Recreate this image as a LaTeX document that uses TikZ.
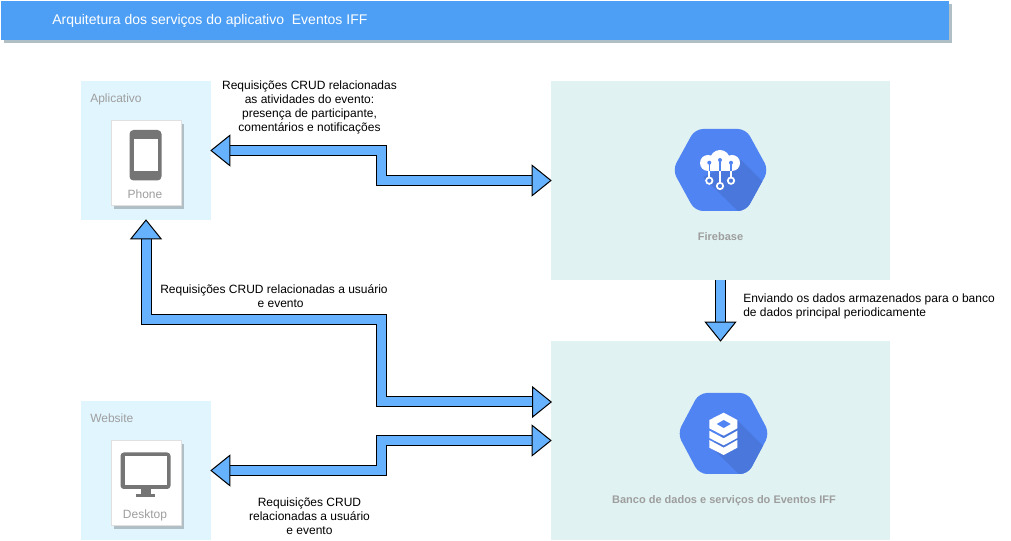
\documentclass[tikz,border=0pt]{standalone}
\usepackage{fontspec}
\setmainfont{Liberation Sans}
\usetikzlibrary{arrows.meta,positioning,shadows}
\definecolor{headblue}{HTML}{4D9FF5}
\definecolor{arrowblue}{HTML}{66B2FF}
\definecolor{applight}{HTML}{E1F5FE}
\definecolor{servlight}{HTML}{E0F2F1}
\definecolor{hexblue}{HTML}{5184F3}
\definecolor{hexdark}{HTML}{4A77DB}
\definecolor{cardshade}{HTML}{B0BEC5}
\definecolor{labelgray}{HTML}{9E9E9E}
\definecolor{icongray}{HTML}{757575}

\begin{document}
\begin{tikzpicture}[
  x=0.75pt,y=-0.75pt,
  font=\fontsize{9}{10.5}\selectfont,
  group/.style={inner sep=0pt,minimum width=97.5pt,minimum height=104.25pt,fill=applight},
  serv/.style={inner sep=0pt,minimum width=254.25pt,minimum height=149.25pt,fill=servlight},
  card/.style={inner sep=0pt,minimum width=52.5pt,minimum height=63.75pt,fill=white,draw=black!12,line width=.75pt,
    drop shadow={shadow xshift=2.25pt,shadow yshift=-2.25pt,fill=cardshade,opacity=1}},
  grp/.style={text=labelgray,anchor=west,inner sep=0pt},
  cardcap/.style={text=labelgray,inner sep=0pt},
  servcap/.style={text=labelgray,inner sep=0pt,font=\fontsize{8.25}{10}\selectfont\bfseries},
  lbl/.style={align=center,inner sep=0pt},
  arr/.style={line width=.75pt,double=arrowblue,double distance=6.75pt,shorten >=-.75pt,
    -{Triangle[length=15pt,width=24pt,fill=arrowblue,line width=.75pt]}},
  arrs/.style={arr,shorten <=-.75pt,{Triangle[length=15pt,width=24pt,fill=arrowblue,line width=.75pt]}-{Triangle[length=15pt,width=24pt,fill=arrowblue,line width=.75pt]}}
]
\useasboundingbox (0,0) rectangle (1011,541);
% header
\node[inner sep=0pt,minimum width=711pt,minimum height=29.25pt,fill=headblue,
  drop shadow={shadow xshift=2.25pt,shadow yshift=-2.25pt,fill=cardshade,opacity=1}] (head) at (475,20.5) {};
\node[text=white,anchor=west,inner sep=0pt,font=\fontsize{10.5}{12}\selectfont] (title) at (52,20.5) {Arquitetura dos serviços do aplicativo\ \ Eventos IFF};
% boxes
\node[group] (app) at (146,150.5) {};
\node[group] (web) at (146,470.5) {};
\node[serv] (fire) at (720.5,180.5) {};
\node[serv] (banco) at (720.5,440.5) {};
\node[grp] (appname) at (90,99) {Aplicativo};
\node[grp] (webname) at (90,418.5) {Website};
\node[card] (phone) at (146,163.5) {};
\node[card] (desk) at (146,483.5) {};
\node[cardcap] (phonecap) at (145,194.5) {Phone};
\node[cardcap] (deskcap) at (145,515) {Desktop};
\node[servcap] (firecap) at (720.5,236.5) {Firebase};
\node[servcap] (bancocap) at (724,500.5) {Banco de dados e serviços do Eventos IFF};
% phone icon
\fill[icongray,rounded corners=3pt] (129.5,130) rectangle (161.5,180.5);
\fill[white] (133.5,139) rectangle (157.5,171.5);
% desktop icon
\fill[icongray,rounded corners=2.5pt] (120.5,452.5) rectangle (170.5,489);
\fill[white] (124.5,456.5) rectangle (166.5,485);
\fill[icongray] (140.5,489) rectangle (150.5,494);
\fill[icongray] (136,494) rectangle (155,497.5);
% firebase hexagon
\begin{scope}
\clip[rounded corners=6pt] (672.5,170) -- (695,129) -- (746,129) -- (768.5,170) -- (746,211) -- (695,211) -- cycle;
\fill[hexblue] (670,125) rectangle (770,215);
\fill[hexdark] (741,160) -- (772,191) -- (745,218) -- (703,177) -- cycle;
\end{scope}
\fill[white] (708,163) circle (8);
\fill[white] (720,160) circle (10);
\fill[white] (732,163) circle (8);
\fill[white] (708,163) rectangle (732,171);
\draw[white,line width=1.3pt] (709.3,171) -- (709.3,178) (720,171) -- (720,183) (731,171) -- (731,178);
\draw[hexblue,line width=.9pt] (709.3,163) -- (709.3,171) (720,160) -- (720,171) (731,163) -- (731,171);
\fill[hexblue] (709.3,162.7) circle (2) (720,160) circle (2) (731,162.7) circle (2);
\draw[white,line width=1.3pt] (709.3,180.7) circle (3.2) (720,186) circle (3.2) (731,180.7) circle (3.2);
% banco hexagon
\begin{scope}
\clip[rounded corners=6pt] (677.5,433.5) -- (699,393) -- (748,393) -- (769.5,433.5) -- (748,474) -- (699,474) -- cycle;
\fill[hexblue] (675,390) rectangle (772,478);
\fill[hexdark] (737,420) -- (775,458) -- (745,480) -- (710,446) -- cycle;
\end{scope}
\fill[white] (723.7,412.7) -- (737.3,420) -- (737.3,428.3) -- (723.7,435.7) -- (709.3,428.3) -- (709.3,420) -- cycle;
\fill[hexblue] (723.7,420) -- (730.7,424) -- (723.7,428) -- (716.7,424) -- cycle;
\fill[white] (709.3,430.7) -- (723.7,438.3) -- (737.3,430.7) -- (737.3,438) -- (723.7,445.3) -- (709.3,438) -- cycle;
\fill[white] (709.3,440) -- (723.7,447.7) -- (737.3,440) -- (737.3,447.7) -- (723.7,455) -- (709.3,447.7) -- cycle;
% arrows
\coordinate (bancoin) at (551,402);
\draw[arrs] (app.east) -- ++(170,0) |- (fire.west);
\draw[arrs] (app.south) |- (381,320) |- (bancoin);
\draw[arrs] (web.east) -- ++(170,0) |- (banco.west);
\draw[arr] (fire.south) -- (banco.north);
% labels
\node[lbl] (crudapp) at (309.5,107) {Requisições CRUD relacionadas\\as atividades do evento:\\presença de participante,\\comentários e notificações};
\node[lbl] (cruduser) at (274,296.5) {Requisições CRUD relacionadas a usuário\\\hspace*{10pt}e evento};
\node[lbl] (crudweb) at (309.5,516) {Requisições CRUD\\relacionadas a usuário\\e evento};
\node[lbl,anchor=west,align=left] (sync) at (743,306.5) {Enviando os dados armazenados para o banco\\de dados principal periodicamente};
\end{tikzpicture}
\end{document}
